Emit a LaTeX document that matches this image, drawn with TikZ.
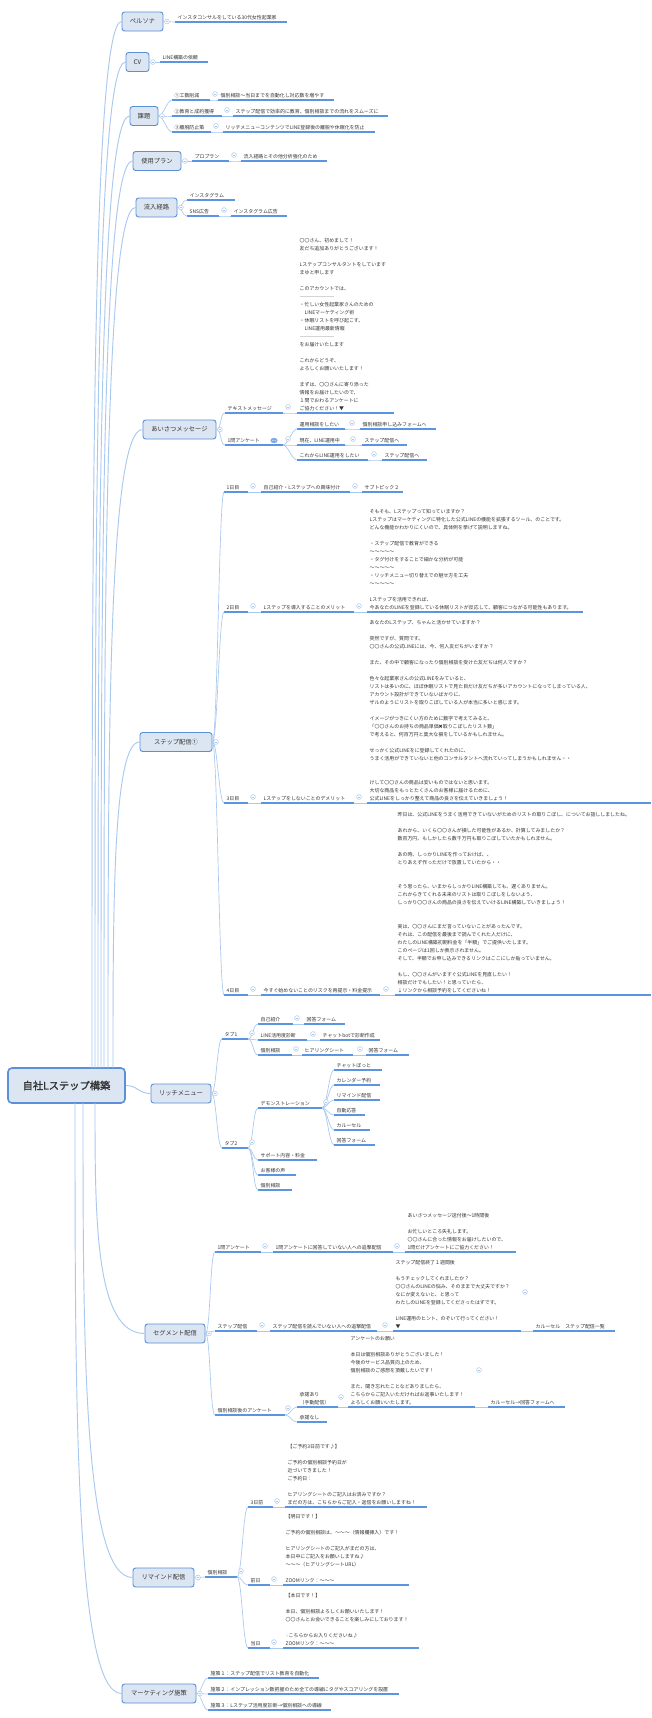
\documentclass[tikz,border=0pt]{standalone}
\usepackage{fontspec}
\setmainfont{Noto Sans CJK JP}
\newfontfamily\dejavu{DejaVu Sans}
\newfontfamily\rootfont{Noto Sans CJK JP}[FakeBold=1.5]
\usetikzlibrary{calc}
\definecolor{ulc}{HTML}{5B95E2}
\definecolor{cnc}{HTML}{A9C9EF}
\definecolor{mfill}{HTML}{DCE6F2}
\definecolor{mbord}{HTML}{5B8FD8}
\definecolor{txt}{HTML}{333333}
\definecolor{sepc}{HTML}{D4D4D4}
\tikzset{
 ul/.style={draw=ulc, line width=0.9pt},
 cn/.style={draw=cnc, line width=0.5pt},
 rc/.style={draw=cnc, line width=0.7pt},
 tp/.style={anchor=south west, inner xsep=1.8pt, inner ysep=1.6pt, align=left, font=\fontsize{3.7}{6}\selectfont, text=txt},
 mn/.style={draw=mbord, fill=mfill, line width=0.7pt, rounded corners=2pt, font=\fontsize{4.7}{5.6}\selectfont, text=txt, minimum height=14.25pt, inner sep=0pt},
 ccs/.style={draw=cnc, fill=white, line width=0.4pt},
}
\newcommand\tp[5]{\coordinate (#1-s) at (#2,#4); \coordinate (#1-e) at (#3,#4); \node[tp] (#1) at (#1-s) {#5}; \draw[ul] (#1-s) -- (#1-e);}
\newcommand\cn[2]{\draw[cn] (#1) .. controls +(5,0) and +(-5,0) .. (#2);}
\newcommand\cc[3]{\path (#1) ++(#2,#3) coordinate (ctmp); \draw[ccs] (ctmp) circle (1.8pt); \draw[draw=cnc,line width=0.4pt] ([xshift=-1pt]ctmp) -- ([xshift=1pt]ctmp);}
\newcommand\rcn[2]{\draw[rc] (#1) .. controls ($(#1)!0.5!(#1|-#2.west)$) and (#1|-#2.west) .. (#2.west);}
\newcommand\sep{\textcolor{sepc}{\rule[1pt]{26pt}{0.8pt}}}
\begin{document}
\begin{tikzpicture}[x=0.75pt,y=-0.75pt]
\useasboundingbox[fill=white] (0,0) rectangle (651,1718);
% root and main nodes
\node[mn, line width=1.2pt, rounded corners=3pt, minimum width=117*0.75pt, minimum height=35*0.75pt, font=\rootfont\fontsize{7.7}{9}\selectfont] (root) at (66.5,1085.5) {自社Lステップ構築};
\node[mn, minimum width=41*0.75pt] (persona) at (142.5,21.5) {ペルソナ};
\node[mn, minimum width=23*0.75pt] (cv) at (137.5,62) {CV};
\node[mn, minimum width=28*0.75pt] (kadai) at (144,116) {課題};
\node[mn, minimum width=48*0.75pt] (plan) at (157,161) {使用プラン};
\node[mn, minimum width=41*0.75pt] (ryunyu) at (156.5,207.5) {流入経路};
\node[mn, minimum width=73*0.75pt] (aisatsu) at (179.5,429.5) {あいさつメッセージ};
\node[mn, minimum width=72*0.75pt] (step) at (176,742) {ステップ配信①};
\node[mn, minimum width=60*0.75pt] (rich) at (181,1093.5) {リッチメニュー};
\node[mn, minimum width=60*0.75pt] (seg) at (175,1333.5) {セグメント配信};
\node[mn, minimum width=61*0.75pt] (remind) at (163.5,1577.5) {リマインド配信};
\node[mn, minimum width=74*0.75pt] (mkt) at (159,1693.5) {マーケティング施策};
% root connectors
\coordinate (r-pe) at (92,1068); \coordinate (r-cv) at (95,1068); \coordinate (r-kd) at (98,1068);
\coordinate (r-up) at (101,1068); \coordinate (r-ry) at (104,1068); \coordinate (r-as) at (108,1068);
\coordinate (r-st) at (113,1068); \coordinate (r-sg) at (95,1103); \coordinate (r-rd) at (83,1103); \coordinate (r-mk) at (75,1103);
\rcn{r-pe}{persona} \rcn{r-cv}{cv} \rcn{r-kd}{kadai} \rcn{r-up}{plan} \rcn{r-ry}{ryunyu}
\rcn{r-as}{aisatsu} \rcn{r-st}{step} \rcn{r-sg}{seg} \rcn{r-rd}{remind} \rcn{r-mk}{mkt}
\draw[rc] (root.east) .. controls +(12,0) and +(-12,0) .. (rich.west);
% ペルソナ
\tp{pe1}{175}{287}{22}{インスタコンサルをしている30代女性起業家}
\cn{persona.east}{pe1-s} \cc{persona.east}{3.5}{0}
% CV
\tp{cv1}{160}{208}{62}{LINE構築の依頼}
\cn{cv.east}{cv1-s} \cc{cv.east}{3.5}{0}
% 課題
\tp{kd1}{172}{210}{100}{①工数削減}
\tp{kd1b}{218}{334}{100}{個別相談〜当日までを自動化し対応数を増やす}
\tp{kd2}{172}{222}{116}{②教育と成約獲得}
\tp{kd2b}{233}{388}{116}{ステップ配信で効率的に教育、個別相談までの流れをスムーズに}
\tp{kd3}{172}{211}{132}{③離脱防止策}
\tp{kd3b}{223}{375}{132}{リッチメニューコンテンツでLINE登録後の離脱や休眠化を防止}
\cn{kadai.east}{kd1-s} \cn{kadai.east}{kd2-s} \cn{kadai.east}{kd3-s}
\cn{kd1-e}{kd1b-s} \cn{kd2-e}{kd2b-s} \cn{kd3-e}{kd3b-s}
\cc{kd1-e}{5}{-6} \cc{kd2-e}{5}{-6} \cc{kd3-e}{5}{-6} \cc{kadai.east}{3.5}{0}
% 使用プラン
\tp{up1}{192}{229}{161}{プロプラン}
\tp{up2}{241}{327}{161}{流入経路とその他分析強化のため}
\cn{plan.east}{up1-s} \cn{up1-e}{up2-s} \cc{up1-e}{5}{-6} \cc{plan.east}{3.5}{0}
% 流入経路
\tp{ry1}{187}{235}{200}{インスタグラム}
\tp{ry2}{187}{219}{216}{SNS広告}
\tp{ry3}{231}{287}{216}{インスタグラム広告}
\cn{ryunyu.east}{ry1-s} \cn{ryunyu.east}{ry2-s} \cn{ry2-e}{ry3-s}
\cc{ry2-e}{5}{-6} \cc{ryunyu.east}{3.5}{0}
% あいさつメッセージ
\tp{as1}{225}{283}{413}{テキストメッセージ}
\tp{as1b}{297}{394}{413}{〇〇さん、初めまして！\\友だち追加ありがとうございます！\\[6pt]Lステップコンサルタントをしています\\まゆと申します\\[6pt]このアカウントでは、\\\sep\\・忙しい女性起業家さんのための\\　LINEマーケティング術\\・休眠リストを呼び起こす、\\　LINE運用最新情報\\\sep\\をお届けいたします\\[6pt]これからどうぞ、\\よろしくお願いいたします！\\[6pt]まずは、〇〇さんに寄り添った\\情報をお届けしたいので、\\１問でおわるアンケートに\\ご協力ください！▼}
\tp{as2}{225}{283}{445}{1問アンケート}
\tp{as21}{297}{345}{429}{運用相談をしたい}
\tp{as21b}{360}{436}{429}{個別相談申し込みフォームへ}
\tp{as22}{297}{345}{445}{現在、LINE運用中}
\tp{as22b}{362}{407}{445}{ステップ配信へ}
\tp{as23}{297}{368}{460}{これからLINE運用をしたい}
\tp{as23b}{382}{427}{460}{ステップ配信へ}
\cn{aisatsu.east}{as1-s} \cn{aisatsu.east}{as2-s} \cn{as1-e}{as1b-s}
\cn{as2-e}{as21-s} \cn{as2-e}{as22-s} \cn{as2-e}{as23-s}
\cn{as21-e}{as21b-s} \cn{as22-e}{as22b-s} \cn{as23-e}{as23b-s}
\cc{as1-e}{5}{-6} \cc{as2-e}{5}{-6} \cc{as21-e}{7}{-6} \cc{as22-e}{8}{-6} \cc{as23-e}{6}{-6} \cc{aisatsu.east}{3.5}{0}
\fill[ulc!80] (274,440.5) ellipse (2.7pt and 2pt);
\fill[white] (272.3,440.5) circle (0.3pt) (274,440.5) circle (0.3pt) (275.7,440.5) circle (0.3pt);
% ステップ配信①
\tp{st1}{224}{248}{492}{1日目}
\tp{st1b}{261}{350}{492}{自己紹介・Lステップへの興味付け}
\tp{st1c}{362}{403}{492}{サブトピック２}
\tp{st2}{224}{248}{612}{2日目}
\tp{st2b}{261}{354}{612}{Lステップを導入することのメリット}
\tp{st2c}{367}{583}{612}{そもそも、Lステップって知っていますか？\\Lステップはマーケティングに特化した公式LINEの機能を拡張するツール、のことです。\\どんな機能かわかりにくいので、具体例を挙げて説明しますね。\\[6pt]・ステップ配信で教育ができる\\〜〜〜〜〜\\・タグ付けをすることで細かな分析が可能\\〜〜〜〜〜\\・リッチメニュー切り替えでの魅せ方を工夫\\〜〜〜〜〜\\[6pt]Lステップを活用できれば、\\今あなたのLINEを登録している休眠リストが反応して、顧客につながる可能性もあります。}
\tp{st3}{224}{248}{803}{3日目}
\tp{st3b}{261}{354}{803}{Lステップをしないことのデメリット}
\tp{st3c}{367}{651}{803}{あなたのLステップ、ちゃんと活かせていますか？\\[6pt]突然ですが、質問です。\\〇〇さんの公式LINEには、今、何人友だちがいますか？\\[6pt]また、その中で顧客になったり個別相談を受けた友だちは何人ですか？\\[6pt]色々な起業家さんの公式LINEをみていると、\\リストは多いのに、ほぼ休眠リストで見た目だけ友だちが多いアカウントになってしまっている人、\\アカウント設計ができていないばかりに、\\ザルのようにリストを取りこぼしている人が本当に多いと感じます。\\[6pt]イメージがつきにくい方のために数字で考えてみると、\\「〇〇さんのお持ちの商品単価{\dejavu ✖}取りこぼしたリスト数」\\で考えると、何百万円と莫大な損をしているかもしれません。\\[6pt]せっかく公式LINEをに登録してくれたのに、\\うまく活用ができていないと他のコンサルタントへ流れていってしまうかもしれません・・\\[12pt]けして〇〇さんの商品は安いものではないと思います。\\大切な商品をもっとたくさんのお客様に届けるために、\\公式LINEをしっかり整えて商品の良さを伝えていきましょう！}
\tp{st4}{224}{248}{995}{4日目}
\tp{st4b}{261}{380}{995}{今すぐ始めないことのリスクを再提示・料金提示}
\tp{st4c}{395}{651}{995}{昨日は、公式LINEをうまく活用できていないがためのリストの取りこぼし、についてお話ししましたね。\\[6pt]あれから、いくら〇〇さんが損した可能性があるか、計算してみましたか？\\数百万円、もしかしたら数千万円も取りこぼしていたかもしれません。\\[6pt]あの時、しっかりLINEを作っておけば、、\\とりあえず作っただけで放置していたから・・\\[12pt]そう思ったら、いまからしっかりLINE構築しても、遅くありません。\\これからきてくれる未来のリストは取りこぼしをしないよう、\\しっかり〇〇さんの商品の良さを伝えていけるLINE構築していきましょう！\\[12pt]実は、〇〇さんにまだ言っていないことがあったんです。\\それは、この配信を最後まで読んでくれた人だけに、\\わたしのLINE構築初期料金を「半額」でご提供いたします。\\このページは1回しか表示されません。\\そして、半額でお申し込みできるリンクはここにしか貼っていません。\\[6pt]もし、〇〇さんがいますぐ公式LINEを見直したい！\\相談だけでもしたい！と思っていたら、\\↓リンクから相談予約をしてくださいね！}
\cn{step.east}{st1-s} \cn{step.east}{st2-s} \cn{step.east}{st3-s} \cn{step.east}{st4-s}
\cn{st1-e}{st1b-s} \cn{st1b-e}{st1c-s} \cn{st2-e}{st2b-s} \cn{st2b-e}{st2c-s}
\cn{st3-e}{st3b-s} \cn{st3b-e}{st3c-s} \cn{st4-e}{st4b-s} \cn{st4b-e}{st4c-s}
\cc{st1-e}{5}{-6} \cc{st1b-e}{5}{-6} \cc{st2-e}{5}{-6} \cc{st2b-e}{5}{-6}
\cc{st3-e}{5}{-6} \cc{st3b-e}{5}{-6} \cc{st4-e}{5}{-6} \cc{st4b-e}{6}{-6} \cc{step.east}{3.5}{0}
% リッチメニュー
\tp{rm1}{222}{248}{1039}{タブ1}
\tp{rm11}{258}{293}{1024}{自己紹介}
\tp{rm11b}{304}{345}{1024}{回答フォーム}
\tp{rm12}{258}{307}{1040}{LINE活用度診断}
\tp{rm12b}{320}{380}{1040}{チャットbotで診断作成}
\tp{rm13}{258}{292}{1055}{個別相談}
\tp{rm13b}{302}{353}{1055}{ヒアリングシート}
\tp{rm13c}{366}{409}{1055}{回答フォーム}
\tp{rm2}{222}{248}{1148}{タブ2}
\tp{rm21}{258}{322}{1108}{デモンストレーション}
\tp{rm211}{334}{382}{1070}{チャットぼっと}
\tp{rm212}{334}{380}{1085}{カレンダー予約}
\tp{rm213}{334}{380}{1100}{リマインド配信}
\tp{rm214}{334}{365}{1115}{自動応答}
\tp{rm215}{334}{370}{1130}{カルーセル}
\tp{rm216}{334}{375}{1145}{回答フォーム}
\tp{rm22}{258}{317}{1160}{サポート内容・料金}
\tp{rm23}{258}{296}{1175}{お客様の声}
\tp{rm24}{258}{292}{1190}{個別相談}
\cn{rich.east}{rm1-s} \cn{rich.east}{rm2-s}
\cn{rm1-e}{rm11-s} \cn{rm1-e}{rm12-s} \cn{rm1-e}{rm13-s}
\cn{rm11-e}{rm11b-s} \cn{rm12-e}{rm12b-s} \cn{rm13-e}{rm13b-s} \cn{rm13b-e}{rm13c-s}
\cn{rm2-e}{rm21-s} \cn{rm2-e}{rm22-s} \cn{rm2-e}{rm23-s} \cn{rm2-e}{rm24-s}
\cn{rm21-e}{rm211-s} \cn{rm21-e}{rm212-s} \cn{rm21-e}{rm213-s} \cn{rm21-e}{rm214-s} \cn{rm21-e}{rm215-s} \cn{rm21-e}{rm216-s}
\cc{rm1-e}{4}{-6} \cc{rm11-e}{4}{-6} \cc{rm12-e}{6}{-6} \cc{rm13-e}{4}{-6} \cc{rm13b-e}{7}{-6}
\cc{rm2-e}{4}{-6} \cc{rm21-e}{4}{-6} \cc{rich.east}{3.5}{0}
% セグメント配信
\tp{sg1}{215}{261}{1252}{1問アンケート}
\tp{sg1b}{273}{393}{1252}{1問アンケートに回答していない人への追撃配信}
\tp{sg1c}{405}{516}{1252}{あいさつメッセージ送付後〜1時間後\\[6pt]お忙しいところ失礼します。\\〇〇さんに合った情報をお届けしたいので、\\1問だけアンケートにご協力ください！}
\tp{sg2}{215}{257}{1331}{ステップ配信}
\tp{sg2b}{270}{377}{1331}{ステップ配信を読んでいない人への追撃配信}
\tp{sg2c}{393}{521}{1331}{ステップ配信終了１週間後\\[6pt]もうチェックしてくれましたか？\\〇〇さんのLINEの悩み、そのままで大丈夫ですか？\\なにか変えないと、と思って\\わたしのLINEを登録してくださったはずです。\\[6pt]LINE運用のヒント、のぞいて行ってください！\\▼}
\tp{sg2d}{533}{615}{1331}{カルーセル　ステップ配信一覧}
\tp{sg3}{215}{285}{1415}{個別相談後のアンケート}
\tp{sg31}{297}{338}{1407}{承諾あり\\（手動配信）}
\tp{sg31b}{348}{475}{1407}{アンケートのお願い\\[6pt]本日は個別相談ありがとうございました！\\今後のサービス品質向上のため、\\個別相談のご感想を頂戴したいです！\\[6pt]また、聞き忘れたことなどありましたら、\\こちらからご記入いただければお返事いたします！\\よろしくお願いいたします。}
\tp{sg31c}{488}{565}{1407}{カルーセル→回答フォームへ}
\tp{sg32}{297}{327}{1422}{承諾なし}
\cn{seg.east}{sg1-s} \cn{seg.east}{sg2-s} \cn{seg.east}{sg3-s}
\cn{sg1-e}{sg1b-s} \cn{sg1b-e}{sg1c-s} \cn{sg2-e}{sg2b-s} \cn{sg2b-e}{sg2c-s} \cn{sg2c-e}{sg2d-s}
\cn{sg3-e}{sg31-s} \cn{sg3-e}{sg32-s} \cn{sg31-e}{sg31b-s} \cn{sg31b-e}{sg31c-s}
\cc{sg1-e}{4}{-6} \cc{sg1b-e}{4}{-6} \cc{sg2-e}{5}{-6} \cc{sg2b-e}{8}{-6} \cc{sg2c-e}{4}{-39}
\cc{sg3-e}{3}{-7} \cc{sg31-e}{3}{-10} \cc{sg31b-e}{4}{-37} \cc{seg.east}{3.5}{0}
% リマインド配信
\tp{rd1}{205}{237}{1577}{個別相談}
\tp{rd11}{248}{273}{1507}{3日前}
\tp{rd11b}{285}{427}{1507}{【ご予約3日前です♪】\\[6pt]ご予約の個別相談予約日が\\近づいてきました！\\ご予約日：\\[6pt]ヒアリングシートのご記入はお済みですか？\\まだの方は、こちらからご記入・返信をお願いしますね！}
\tp{rd12}{248}{270}{1585}{前日}
\tp{rd12b}{283}{409}{1585}{【明日です！】\\[6pt]ご予約の個別相談は、〜〜〜（情報欄挿入）です！\\[6pt]ヒアリングシートのご記入がまだの方は、\\本日中にご記入をお願いしますね♪\\〜〜〜（ヒアリングシートURL）\\[6pt]ZOOMリンク：〜〜〜}
\tp{rd13}{248}{270}{1648}{当日}
\tp{rd13b}{283}{419}{1648}{【本日です！】\\[6pt]本日、個別相談よろしくお願いいたします！\\〇〇さんとお会いできることを楽しみにしております！\\[6pt]{\dejavu\textcolor{orange}{☟}}こちらからお入りくださいね♪\\ZOOMリンク：〜〜〜}
\cn{remind.east}{rd1-s}
\cn{rd1-e}{rd11-s} \cn{rd1-e}{rd12-s} \cn{rd1-e}{rd13-s}
\cn{rd11-e}{rd11b-s} \cn{rd12-e}{rd12b-s} \cn{rd13-e}{rd13b-s}
\cc{rd1-e}{4}{-6} \cc{rd11-e}{4}{-6} \cc{rd12-e}{4}{-6} \cc{rd13-e}{4}{-6} \cc{remind.east}{3.5}{0}
% マーケティング施策
\tp{mk1}{208}{319}{1678}{施策１：ステップ配信でリスト教育を自動化}
\tp{mk2}{208}{399}{1694}{施策２：インプレッション数把握のため全ての導線にタグやスコアリングを設置}
\tp{mk3}{208}{331}{1710}{施策３：Lステップ活用度診断→個別相談への導線}
\cn{mkt.east}{mk1-s} \cn{mkt.east}{mk2-s} \cn{mkt.east}{mk3-s}
\cc{mkt.east}{3.5}{0}
\end{tikzpicture}
\end{document}
